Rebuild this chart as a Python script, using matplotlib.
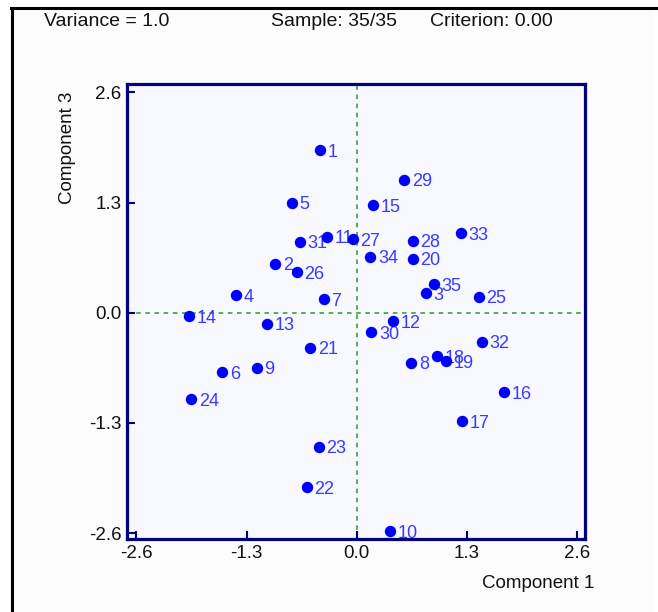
import matplotlib.pyplot as plt
from matplotlib.lines import Line2D
from matplotlib.patches import Rectangle

# Scores (Component 1 vs Component 3)
labels = [str(i) for i in range(1, 36)]
comp1 = [-0.44, -0.96, 0.81, -1.42, -0.77, -1.59, -0.39, 0.64, -1.18, 0.39,
         -0.35, 0.43, -1.06, -1.98, 0.19, 1.74, 1.24, 0.94, 1.05, 0.66,
         -0.55, -0.59, -0.45, -1.95, 1.44, -0.71, -0.05, 0.66, 0.56, 0.17,
         -0.67, 1.47, 1.23, 0.16, 0.91]
comp3 = [1.92, 0.58, 0.23, 0.21, 1.30, -0.70, 0.16, -0.59, -0.65, -2.58,
         0.90, -0.10, -0.13, -0.04, 1.27, -0.94, -1.28, -0.51, -0.57, 0.64,
         -0.41, -2.06, -1.58, -1.02, 0.19, 0.48, 0.87, 0.85, 1.57, -0.23,
         0.84, -0.34, 0.94, 0.66, 0.34]
ticks = [-2.6, -1.3, 0.0, 1.3, 2.6]

plt.rcParams['font.family'] = ['Liberation Sans', 'DejaVu Sans']

W, H = 658, 612
fig = plt.figure(figsize=(W / 100, H / 100), dpi=100, facecolor='white')

# outer panel with black frame on the left and top
fig.patches.append(Rectangle((12 / W, 0), (653 - 12) / W, 1 - 8 / H,
                             transform=fig.transFigure, facecolor='#fcfcfc',
                             edgecolor='none', zorder=-10))
fig.lines.append(Line2D([12 / W, 12 / W], [0, 1 - 7.5 / H], transform=fig.transFigure,
                        color='black', lw=2.2))
fig.lines.append(Line2D([11 / W, 1], [1 - 7.5 / H, 1 - 7.5 / H], transform=fig.transFigure,
                        color='black', lw=2.2))

ax = fig.add_axes([127 / W, 1 - 539 / H, (585 - 127) / W, (539 - 84) / H])
ax.set_facecolor('#f8f8ff')
ax.set_xlim(-2.71, 2.69)
ax.set_ylim(-2.67, 2.70)

ax.axvline(0, color='#2a9a2a', lw=1.1, ls=(0, (3, 3)), zorder=1)
ax.axhline(0, color='#2a9a2a', lw=1.1, ls=(0, (3, 3)), zorder=1)

for x, y, t in zip(comp1, comp3, labels):
    ax.annotate(t, (x, y), xytext=(5.5, -1.5), textcoords='offset points',
                ha='left', va='center', color='#3a3aff', fontsize=13, zorder=2)
ax.scatter(comp1, comp3, s=52, color='#0000ff', zorder=3)

ax.set_xticks(ticks)
ax.set_yticks(ticks)
ax.set_xticklabels([f'{t:.1f}' for t in ticks])
ax.set_yticklabels([f'{t:.1f}' for t in ticks])
ax.tick_params(direction='in', length=6, width=1.5, color='#000080',
               labelsize=13.5, labelcolor='#111111', pad=4)
for s in ax.spines.values():
    s.set_color('#000080')
    s.set_linewidth(2.3)

fig.text(44 / W, 1 - 21 / H, 'Variance = 1.0', fontsize=14, va='center', color='#111111')
fig.text(271 / W, 1 - 21 / H, 'Sample: 35/35', fontsize=14, va='center', color='#111111')
fig.text(430 / W, 1 - 21 / H, 'Criterion: 0.00', fontsize=14, va='center', color='#111111')
fig.text(68 / W, 1 - 148 / H, 'Component 3', fontsize=13.5, rotation=90,
         ha='center', va='center', color='#111111')
fig.text(594 / W, 1 - 583 / H, 'Component 1', fontsize=13.5, ha='right', va='center',
         color='#111111')

fig.savefig('out.png', dpi=100, facecolor='white')
